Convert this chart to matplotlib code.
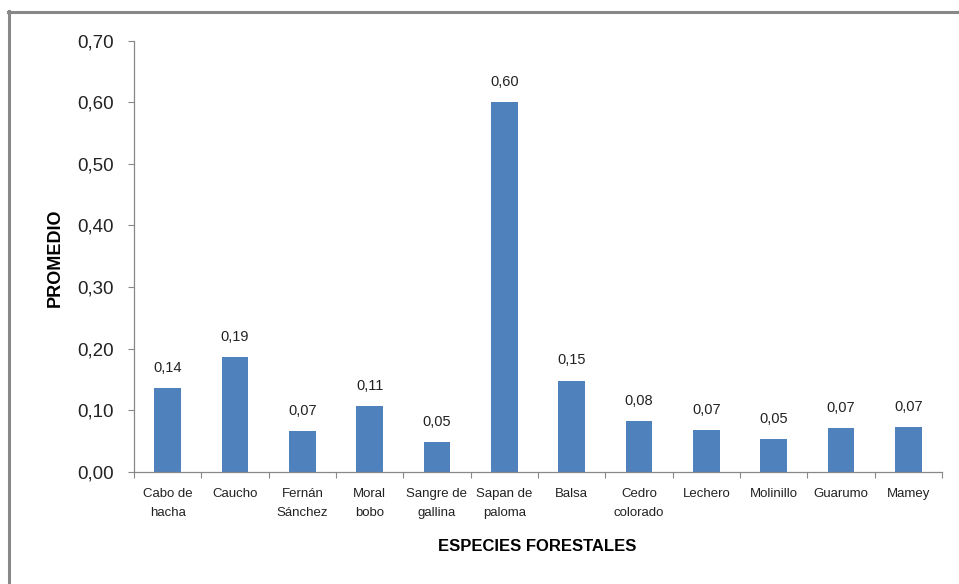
import matplotlib.pyplot as plt
from matplotlib.lines import Line2D

especies = ['Cabo de\nhacha', 'Caucho', 'Fernán\nSánchez', 'Moral\nbobo',
            'Sangre de\ngallina', 'Sapan de\npaloma', 'Balsa', 'Cedro\ncolorado',
            'Lechero', 'Molinillo', 'Guarumo', 'Mamey']
promedio = [0.136, 0.186, 0.066, 0.107, 0.048, 0.600, 0.148, 0.082,
            0.067, 0.053, 0.071, 0.073]
yticks = [0.0, 0.1, 0.2, 0.3, 0.4, 0.5, 0.6, 0.7]

plt.rcParams['font.family'] = ['Liberation Sans', 'DejaVu Sans']

fig = plt.figure(figsize=(9.59, 5.84), dpi=100)
ax = fig.add_axes([0.1397, 0.1923, 0.8426, 0.738])

x = range(len(especies))
ax.bar(x, promedio, width=0.4, color='#4F81BD')

def coma(v):
    return f'{v:.2f}'.replace('.', ',')

for xi, v in zip(x, promedio):
    ax.annotate(coma(v), (xi, v), xytext=(0, 9.5), textcoords='offset points',
                ha='center', va='bottom', fontsize=10.5, color='#222222')

ax.set_xlim(-0.5, len(especies) - 0.5)
ax.set_ylim(0, 0.7)
ax.set_yticks(yticks)
ax.set_yticklabels([coma(t) for t in yticks], fontsize=13.5, color='#222222')
ax.tick_params(axis='y', length=4.5, width=0.8, color='#888888', pad=10)

# categorias entre marcas, como en Excel
ax.set_xticks([i - 0.5 for i in range(len(especies) + 1)])
ax.set_xticklabels([])
ax.set_xticks(list(x), minor=True)
ax.set_xticklabels(especies, minor=True, fontsize=9.5, color='#222222', linespacing=1.75)
ax.tick_params(axis='x', which='major', length=4.5, width=0.8, color='#888888')
ax.tick_params(axis='x', which='minor', length=0, pad=12)

for s in ['top', 'right']:
    ax.spines[s].set_visible(False)
for s in ['left', 'bottom']:
    ax.spines[s].set_color('#888888')
    ax.spines[s].set_linewidth(0.9)

fig.text(0.0574, 0.559, 'PROMEDIO', rotation=90, ha='center', va='center',
         fontsize=13, fontweight='bold')
fig.text(0.56, 0.065, 'ESPECIES FORESTALES', ha='center', va='center',
         fontsize=12, fontweight='bold')

# marco gris del grafico
fig.add_artist(Line2D([0.0094, 0.0094], [0, 0.981], transform=fig.transFigure,
                      color='#888888', lw=2.2))
fig.add_artist(Line2D([0.0083, 1.0], [0.979, 0.979], transform=fig.transFigure,
                      color='#888888', lw=2.2))

fig.savefig('out.png', dpi=100)
